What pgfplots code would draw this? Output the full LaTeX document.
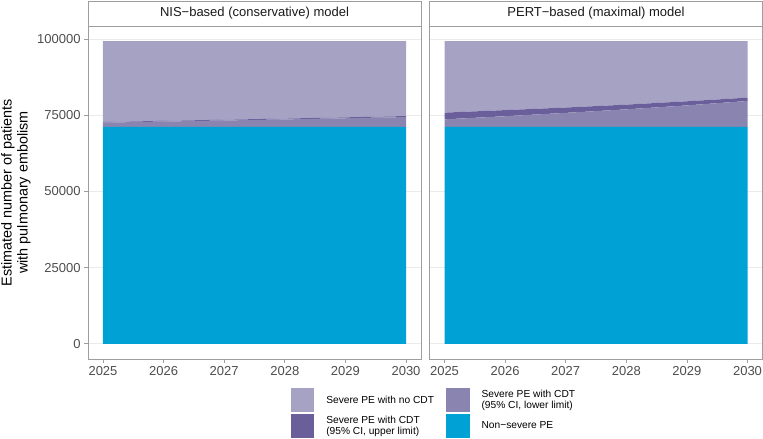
\documentclass[border=0pt]{standalone}
\usepackage{fontspec}
\setmainfont{Liberation Sans}
\usepackage{pgfplots}
\pgfplotsset{compat=1.18}
\definecolor{nocdt}{HTML}{A6A2C4}
\definecolor{lowlim}{HTML}{8A85B0}
\definecolor{uplim}{HTML}{6A5F9B}
\definecolor{nonsev}{HTML}{00A1D5}
\definecolor{bordergray}{HTML}{9E9E9E}
\definecolor{gridgray}{HTML}{EBEBEB}
\definecolor{ticktext}{HTML}{4D4D4D}
\definecolor{striptext}{HTML}{1A1A1A}

\pgfplotsset{panel/.style={
  scale only axis, width=333bp, height=333bp,
  xmin=2024.7525, xmax=2030.2475, ymin=-4967, ymax=104307,
  stack plots=y,
  axis line style={bordergray, line width=0.8bp},
  xtick={2025,2026,2027,2028,2029,2030},
  xticklabels={2025,2026,2027,2028,2029,2030},
  ytick={0,25000,50000,75000,100000},
  ymajorgrids, major grid style={gridgray, line width=0.8bp},
  tick align=outside, major tick length=4bp,
  tick style={bordergray, line width=0.8bp},
  xtick pos=bottom, ytick pos=left,
  ticklabel style={font=\fontsize{13bp}{15bp}\selectfont, text=ticktext},
}}

\begin{document}
\begin{tikzpicture}
\useasboundingbox (0,0) rectangle (763bp,439bp);

\begin{axis}[panel, name=leftpanel, at={(88bp,80bp)}, anchor=south west,
  yticklabels={0,25000,50000,75000,100000},
  ylabel={Estimated number of patients\\with pulmonary embolism},
  ylabel style={align=center, font=\fontsize{14.4bp}{16bp}\selectfont,
    at={(axis description cs:-0.2162,0.5)}, anchor=center},
  legend columns=2,
  legend style={at={(axis description cs:0.6087,-0.088)}, anchor=north west,
    draw=none, fill=none, inner sep=0pt, outer sep=0pt,
    /tikz/column sep=10bp, /tikz/row sep=1.7bp,
    font=\fontsize{10.2bp}{11bp}\selectfont,
    cells={anchor=west, align=left, inner sep=0pt}},
  legend image code/.code={\fill[#1] (0bp,-11.8bp) rectangle (23.6bp,11.8bp);},
]
\addplot[draw=none, forget plot] coordinates {(2025,0) (2026,0) (2027,0) (2028,0) (2029,0) (2030,0)};
\addplot[fill=nonsev, draw=none, forget plot] coordinates {(2025,71200) (2026,71200) (2027,71200) (2028,71200) (2029,71200) (2030,71200)} \closedcycle;
\addplot[fill=lowlim, draw=none, forget plot] coordinates {(2025,1390) (2026,1750) (2027,2100) (2028,2450) (2029,2830) (2030,3230)} \closedcycle;
\addplot[fill=uplim, draw=none, forget plot] coordinates {(2025,210) (2026,230) (2027,260) (2028,280) (2029,300) (2030,330)} \closedcycle;
\addplot[fill=nocdt, draw=none, forget plot] coordinates {(2025,26540) (2026,26160) (2027,25780) (2028,25410) (2029,25010) (2030,24580)} \closedcycle;
\addlegendimage{fill=nocdt, draw=none}
\addlegendentry{Severe PE with no CDT}
\addlegendimage{fill=lowlim, draw=none}
\addlegendentry{Severe PE with CDT\\(95\% CI, lower limit)}
\addlegendimage{fill=uplim, draw=none}
\addlegendentry{Severe PE with CDT\\(95\% CI, upper limit)}
\addlegendimage{fill=nonsev, draw=none}
\addlegendentry{Non−severe PE}
\end{axis}

\begin{axis}[panel, name=rightpanel, at={(429.5bp,80bp)}, anchor=south west,
  yticklabels={}, ytick style={draw=none}]
\addplot[draw=none, forget plot] coordinates {(2025,0) (2026,0) (2027,0) (2028,0) (2029,0) (2030,0)};
\addplot[fill=nonsev, draw=none, forget plot] coordinates {(2025,71200) (2026,71200) (2027,71200) (2028,71200) (2029,71200) (2030,71200)} \closedcycle;
\addplot[fill=lowlim, draw=none, forget plot] coordinates {(2025,2470) (2026,3500) (2027,4600) (2028,5750) (2029,7050) (2030,8500)} \closedcycle;
\addplot[fill=uplim, draw=none, forget plot] coordinates {(2025,2210) (2026,2000) (2027,1750) (2028,1550) (2029,1350) (2030,1100)} \closedcycle;
\addplot[fill=nocdt, draw=none, forget plot] coordinates {(2025,23460) (2026,22640) (2027,21790) (2028,20840) (2029,19740) (2030,18540)} \closedcycle;
\end{axis}

\draw[bordergray, line width=0.8bp, fill=white] (leftpanel.north west) rectangle ([yshift=24.5bp]leftpanel.north east);
\node[font=\fontsize{13bp}{15bp}\selectfont, text=striptext] at ([yshift=12.5bp]leftpanel.north) {NIS−based (conservative) model};
\draw[bordergray, line width=0.8bp, fill=white] (rightpanel.north west) rectangle ([yshift=24.5bp]rightpanel.north east);
\node[font=\fontsize{13bp}{15bp}\selectfont, text=striptext] at ([yshift=12.5bp]rightpanel.north) {PERT−based (maximal) model};
\end{tikzpicture}
\end{document}
